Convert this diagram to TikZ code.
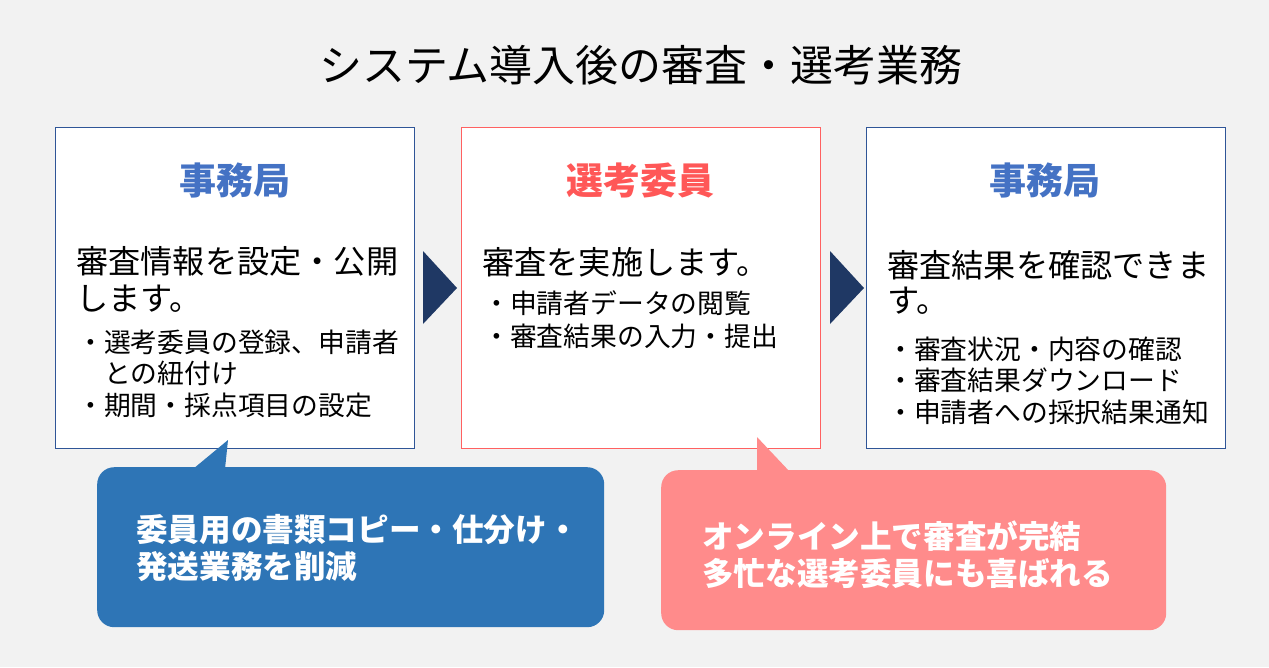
\documentclass[tikz,border=0pt]{standalone}
\usepackage{fontspec}
\setmainfont{Noto Sans CJK JP}
\definecolor{bgc}{HTML}{F2F2F2}
\definecolor{boxblue}{HTML}{2F5597}
\definecolor{boxred}{HTML}{FF6161}
\definecolor{headblue}{HTML}{4472C4}
\definecolor{headred}{HTML}{FF5757}
\definecolor{arrowc}{HTML}{1F3864}
\definecolor{callblue}{HTML}{2E75B6}
\definecolor{callpink}{HTML}{FF8B8B}
\begin{document}
\begin{tikzpicture}[x=1pt,y=-1pt,
  panel/.style={draw=#1, line width=1pt, fill=white, anchor=north west, inner sep=0pt, minimum width=359pt, minimum height=321pt},
  headtxt/.style={text=#1, inner sep=0pt, font=\fontsize{37}{44}\selectfont\bfseries},
  bodytxt/.style={anchor=west, inner sep=0pt, text=black, font=\fontsize{32.2}{38}\selectfont},
  bullettxt/.style={anchor=west, inner sep=0pt, text=black, font=\fontsize{26.8}{32}\selectfont},
  callbox/.style={fill=#1, draw=none, anchor=north west, inner sep=0pt, rounded corners=17pt, minimum width=507pt, minimum height=160pt},
  calltxt/.style={anchor=west, inner sep=0pt, text=white, font=\fontsize{31.6}{38}\selectfont\bfseries},
  flowarrow/.style={fill=arrowc, draw=none}
]
\fill[bgc] (0,0) rectangle (1269,667);
\useasboundingbox (0,0) rectangle (1269,667);

% title
\node[inner sep=0pt, font=\fontsize{43}{51}\selectfont] (title) at (641,65) {システム導入後の審査・選考業務};

% panels
\node[panel=boxblue] (p1) at (55,127) {};
\node[panel=boxred] (p2) at (461,127) {};
\node[panel=boxblue] (p3) at (866,127) {};

% headings
\node[headtxt=headblue] (h1) at (235,180) {事務局};
\node[headtxt=headred] (h2) at (640,180) {選考委員};
\node[headtxt=headblue] (h3) at (1045,180) {事務局};

% panel 1 text
\node[bodytxt] (b1a) at (76,261) {審査情報を設定・公開};
\node[bodytxt] (b1b) at (76,299) {します。};
\node[bullettxt] (b1c) at (77,342) {・選考委員の登録、申請者};
\node[bullettxt] (b1d) at (104,373) {との紐付け};
\node[bullettxt] (b1e) at (77,405) {・期間・採点項目の設定};

% panel 2 text
\node[bodytxt] (b2a) at (482,262) {審査を実施します。};
\node[bullettxt] (b2b) at (483,303) {・申請者データの閲覧};
\node[bullettxt] (b2c) at (483,336) {・審査結果の入力・提出};

% panel 3 text
\node[bodytxt] (b3a) at (887,265) {審査結果を確認できま};
\node[bodytxt] (b3b) at (887,301) {す。};
\node[bullettxt] (b3c) at (887,349) {・審査状況・内容の確認};
\node[bullettxt] (b3d) at (887,380) {・審査結果ダウンロード};
\node[bullettxt] (b3e) at (887,412) {・申請者への採択結果通知};

% flow arrows
\coordinate (a1t) at (423,251); \coordinate (a1p) at (457,288); \coordinate (a1b) at (423,324);
\fill[flowarrow] (a1t) -- (a1p) -- (a1b) -- cycle;
\coordinate (a2t) at (830,251); \coordinate (a2p) at (864,288); \coordinate (a2b) at (830,324);
\fill[flowarrow] (a2t) -- (a2p) -- (a2b) -- cycle;

% callout 1
\node[callbox=callblue] (c1) at (97,467) {};
\coordinate (t1l) at (193,469); \coordinate (t1a) at (228,440); \coordinate (t1r) at (225,469);
\fill[callblue] (t1l) -- (t1a) -- (t1r) -- cycle;
\node[calltxt] (c1a) at (136,530) {委員用の書類コピー・仕分け・};
\node[calltxt] (c1b) at (136,567) {発送業務を削減};

% callout 2
\node[callbox=callpink, minimum width=505pt] (c2) at (661,470) {};
\coordinate (t2l) at (757,472); \coordinate (t2a) at (757,437); \coordinate (t2r) at (790,472);
\fill[callpink] (t2l) -- (t2a) -- (t2r) -- cycle;
\node[calltxt] (c2a) at (702,536) {オンライン上で審査が完結};
\node[calltxt] (c2b) at (702,573) {多忙な選考委員にも喜ばれる};
\end{tikzpicture}
\end{document}
